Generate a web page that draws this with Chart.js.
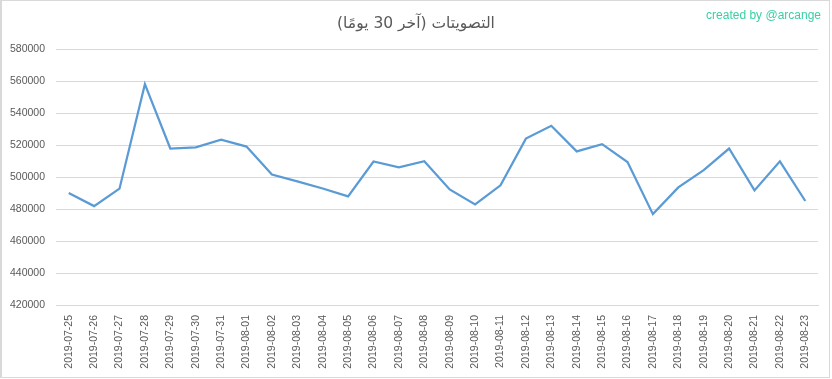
<!DOCTYPE html>
<html>
<head>
<meta charset="utf-8">
<script src="https://cdn.jsdelivr.net/npm/chart.js@4/dist/chart.umd.min.js"></script>
<style>
  html, body { margin: 0; padding: 0; background: #fff; }
  #wrap { position: relative; width: 832px; height: 379px; overflow: hidden; }
  #frame { position: absolute; left: 0; top: 0; width: 830px; height: 378px; box-sizing: border-box; border: 1px solid #d9d9d9; border-width: 1px 1px 1px 2px; }
  #c { position: absolute; left: 0; top: 0; }
  #credit { position: absolute; right: 11px; top: 8px; font-family: "Liberation Sans", Arial, sans-serif; font-size: 12px; color: #38cfa5; white-space: nowrap; }
</style>
</head>
<body>
<div id="wrap">
  <div id="frame"></div>
  <canvas id="c" width="832" height="379"></canvas>
  <div id="credit">created by @arcange</div>
</div>
<script>
const titleText = "التصويتات (آخر 30 يومًا)";
const dates = [
  "2019-07-25","2019-07-26","2019-07-27","2019-07-28","2019-07-29","2019-07-30","2019-07-31",
  "2019-08-01","2019-08-02","2019-08-03","2019-08-04","2019-08-05","2019-08-06","2019-08-07",
  "2019-08-08","2019-08-09","2019-08-10","2019-08-11","2019-08-12","2019-08-13","2019-08-14",
  "2019-08-15","2019-08-16","2019-08-17","2019-08-18","2019-08-19","2019-08-20","2019-08-21",
  "2019-08-22","2019-08-23"
];
const votes = [
  490000, 481800, 492700, 558000, 517800, 518500, 523300,
  519000, 501500, 497300, 492800, 487900, 509700, 506000,
  509900, 492200, 482800, 494800, 524000, 532000, 516000,
  520500, 509300, 476800, 493500, 504300, 517800, 491600,
  509800, 485000
];
const yMin = 420000, yMax = 580000, yStep = 20000;

const gridColor = "#d9d9d9";
const textColor = "#595959";

new Chart(document.getElementById("c"), {
  type: "line",
  data: {
    labels: dates,
    datasets: [{
      data: votes,
      borderColor: "#5b9bd5",
      borderWidth: 2.25,
      pointRadius: 0,
      pointHoverRadius: 0,
      tension: 0,
      fill: false
    }]
  },
  options: {
    responsive: false,
    animation: false,
    events: [],
    layout: { padding: { left: 0, right: 0, top: 0, bottom: 0 } },
    plugins: {
      legend: { display: false },
      tooltip: { enabled: false },
      title: {
        display: true,
        text: titleText,
        color: textColor,
        font: { family: "'DejaVu Sans', sans-serif", size: 15.5, weight: "normal", lineHeight: 1.2 },
        padding: { top: 15, bottom: 15.4 }
      }
    },
    scales: {
      x: {
        offset: true,
        grid: { display: false, drawTicks: false },
        border: { display: true, color: gridColor },
        ticks: {
          color: textColor,
          font: { family: "'Liberation Sans', Arial, sans-serif", size: 10.5 },
          minRotation: 90,
          maxRotation: 90,
          autoSkip: false,
          padding: 10
        },
        afterFit(scale) { scale.height = 74; }
      },
      y: {
        min: yMin,
        max: yMax,
        grid: { color: gridColor, lineWidth: 1, drawTicks: false },
        border: { display: false },
        ticks: {
          stepSize: yStep,
          color: textColor,
          font: { family: "'Liberation Sans', Arial, sans-serif", size: 10.5 },
          padding: 11,
          callback: (v) => String(v)
        },
        afterFit(scale) { scale.width = 56; }
      },
      yRight: {
        position: "right",
        display: true,
        min: yMin,
        max: yMax,
        grid: { display: false, drawTicks: false },
        border: { display: false },
        ticks: { display: false },
        afterFit(scale) { scale.width = 14; }
      }
    }
  }
});
</script>
</body>
</html>
